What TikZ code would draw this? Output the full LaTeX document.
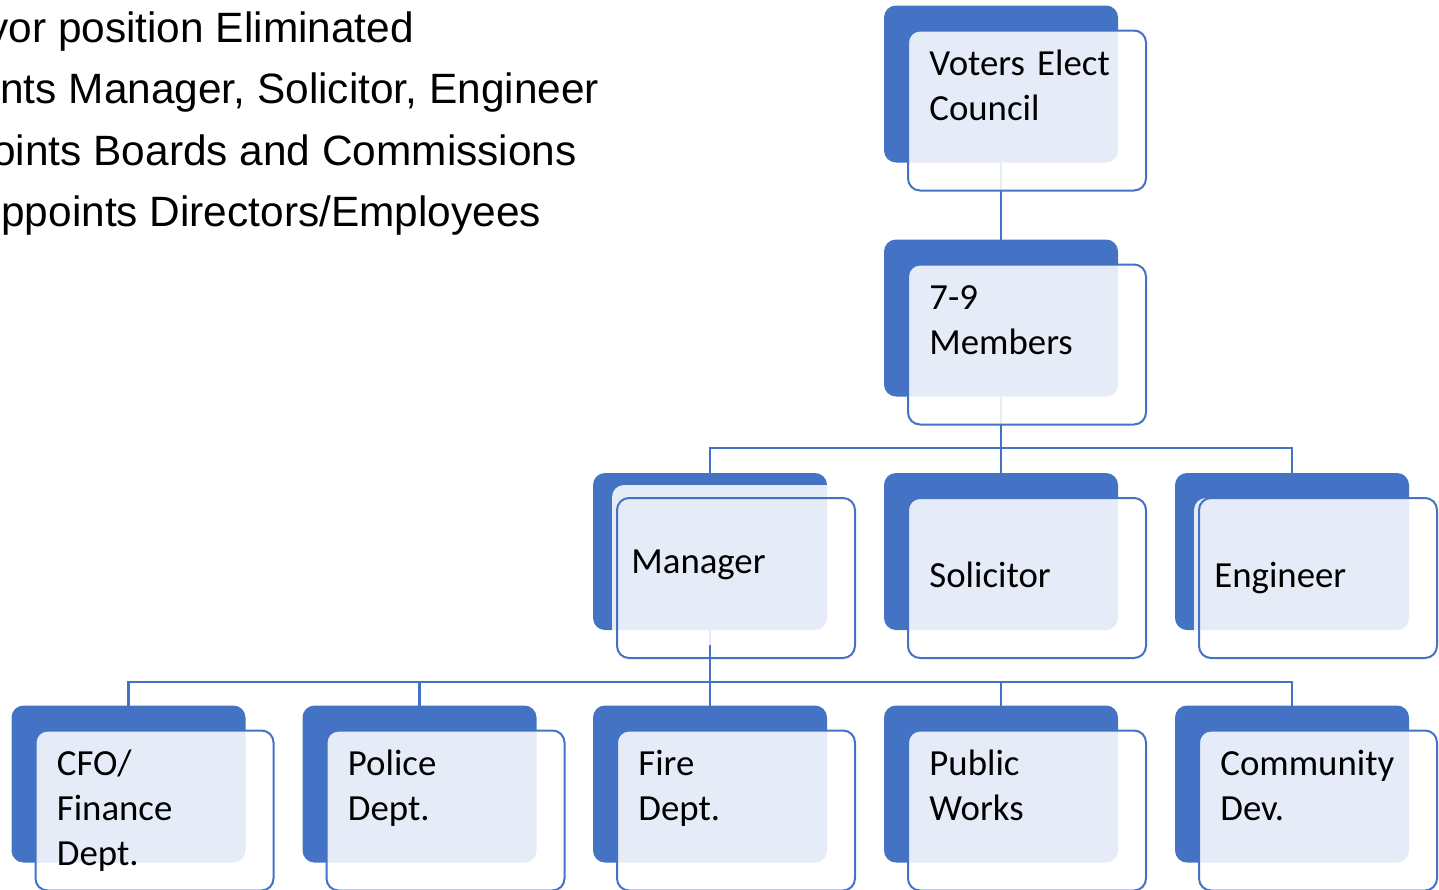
\documentclass[tikz,border=0pt]{standalone}
\usepackage{fontspec}
\newfontfamily\boxfont{Carlito}
\newfontfamily\notefont{Liberation Sans}
\usepackage{tikz}
\usetikzlibrary{backgrounds, calc}

\definecolor{bluebox}{HTML}{4472C4}

\tikzset{
    back/.style={fill=bluebox, rounded corners=6pt, minimum width=117pt, minimum height=78.5pt, inner sep=0pt, outer sep=0pt},
    veil/.style={fill=white, fill opacity=0.87, rounded corners=6pt, minimum width=119pt, minimum height=80pt, inner sep=0pt, outer sep=0pt},
    rim/.style={draw=bluebox, line width=1pt, rounded corners=6pt, minimum width=119pt, minimum height=80pt, inner sep=0pt, outer sep=0pt},
    boxtext/.style={font={\boxfont\fontsize{18.4pt}{22.5pt}\selectfont}, inner sep=0pt},
    manyline/.style={boxtext, anchor=north west, text width=110pt, align=left},
    oneline/.style={boxtext, anchor=base west},
    note/.style={font={\notefont\fontsize{21.2pt}{25pt}\selectfont}, inner sep=0pt, anchor=base west},
    link/.style={draw=bluebox, line width=1.3pt}
}

\begin{document}
\begin{tikzpicture}[x=0.5pt, y=-0.5pt]
    \useasboundingbox (0,0) rectangle (1439,889);

    % notes, cut at the left edge
    \node[note] (note1) at (-13,42) {yor position Eliminated};
    \node[note] (note2) at (0,103) {nts Manager, Solicitor, Engineer};
    \node[note] (note3) at (-8,165) {oints Boards and Commissions};
    \node[note] (note4) at (1,226) {ppoints Directors/Employees};

    % boxes: blue back, pale veil, outline
    \foreach \n/\x/\y/\dx/\dy in {council/1001/84/0/0, members/1001/318/0/0,
        manager/710/551.5/-5/-13, solicitor/1001/551.5/0/0, engineer/1292/551.5/-5/0,
        finance/128.5/784/0/0, police/419.5/784/0/0, fire/710/784/0/0,
        works/1001/784/0/0, commdev/1292/784/0/0} {
        \node[back] (\n) at (\x,\y) {};
        \node[veil] (\n-veil) at (\x+26+\dx,\y+26.5+\dy) {};
        \node[rim] (\n-rim) at (\x+26,\y+26.5) {};
    }

    \node[manyline] (council-text) at ([shift={(21,13.5)}]council-rim.north west) {\strut Voters Elect\\Council};
    \node[manyline] (members-text) at ([shift={(21,13.5)}]members-rim.north west) {\strut 7-9\\Members};
    \node[oneline] (manager-text) at ([shift={(14,75)}]manager-rim.north west) {Manager};
    \node[oneline] (solicitor-text) at ([shift={(21,89)}]solicitor-rim.north west) {Solicitor};
    \node[oneline] (engineer-text) at ([shift={(15,89)}]engineer-rim.north west) {Engineer};
    \node[manyline] (finance-text) at ([shift={(21,13.5)}]finance-rim.north west) {\strut CFO/\\Finance\\Dept.};
    \node[manyline] (police-text) at ([shift={(21,13.5)}]police-rim.north west) {\strut Police\\Dept.};
    \node[manyline] (fire-text) at ([shift={(21,13.5)}]fire-rim.north west) {\strut Fire\\Dept.};
    \node[manyline] (works-text) at ([shift={(21,13.5)}]works-rim.north west) {\strut Public\\Works};
    \node[manyline] (commdev-text) at ([shift={(21,13.5)}]commdev-rim.north west) {\strut Community\\Dev.};

    % connectors behind the boxes
    \begin{scope}[on background layer]
        \coordinate (split1) at (1001,448);
        \coordinate (split2) at (710,682);
        \draw[link] (council.south) -- (members.north);
        \draw[link] (members.south) -- (split1) -- (solicitor.north);
        \draw[link] (split1) -| (manager.north);
        \draw[link] (split1) -| (engineer.north);
        \draw[link] (manager.south) -- (split2) -- (fire.north);
        \foreach \n in {finance, police, works, commdev} {
            \draw[link] (split2) -| (\n.north);
        }
    \end{scope}
\end{tikzpicture}
\end{document}
